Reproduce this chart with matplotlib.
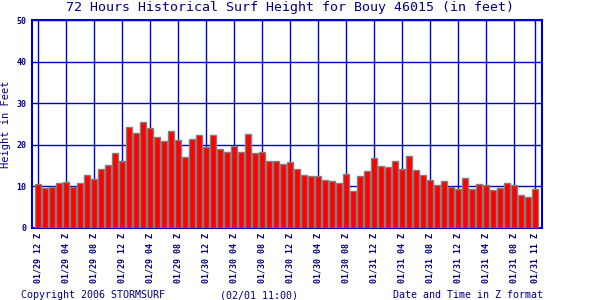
import matplotlib
matplotlib.use("Agg")
import matplotlib.pyplot as plt
import numpy as np

heights = [10.5, 9.6, 9.8, 10.8, 11.0, 9.8, 10.8, 12.6, 11.7, 14.1, 15.1, 18.0,
           16.1, 24.3, 22.8, 25.4, 24.0, 21.9, 20.8, 23.3, 21.1, 17.0, 21.5, 22.3,
           19.4, 22.3, 18.9, 18.2, 19.7, 18.2, 22.5, 17.9, 18.2, 16.0, 16.0, 15.3,
           15.8, 14.1, 12.6, 12.4, 12.4, 11.4, 11.2, 10.7, 12.9, 8.8, 12.4, 13.6,
           16.7, 14.8, 14.6, 16.0, 14.1, 17.2, 13.8, 12.6, 11.4, 10.2, 11.2, 9.7,
           9.3, 12.1, 9.3, 10.5, 10.2, 9.0, 9.5, 10.7, 10.2, 8.0, 7.3, 9.3]
tick_idx = [0, 4, 8, 12, 16, 20, 24, 28, 32, 36, 40, 44, 48, 52, 56, 60, 64, 68, 71]
tick_labels = ["01/29 12 Z", "01/29 04 Z", "01/29 08 Z", "01/29 12 Z", "01/29 04 Z",
               "01/29 08 Z", "01/30 12 Z", "01/30 04 Z", "01/30 08 Z", "01/30 12 Z",
               "01/30 04 Z", "01/30 08 Z", "01/31 12 Z", "01/31 04 Z", "01/31 08 Z",
               "01/31 12 Z", "01/31 04 Z", "01/31 08 Z", "01/31 11 Z"]
yticks = [0, 10, 20, 30, 40, 50]

blue = "#0000C8"
navy = "#000080"
mono = "DejaVu Sans Mono"

fig = plt.figure(figsize=(6, 3), dpi=100)
ax = fig.add_axes([31.7/600, 1-227.7/300, (542.3-31.7)/600, (227.7-20.3)/300])
x = np.arange(len(heights))
ax.bar(x, heights, width=0.9, color="#FF0000", edgecolor="#808080", linewidth=1.0, zorder=3)
ax.set_xlim(-0.94, 72)
ax.set_ylim(0, 50)
ax.set_yticks(yticks)
ax.set_yticklabels([str(v) for v in yticks], fontsize=6, family=mono, fontweight="bold", color=navy)
ax.set_xticks(tick_idx)
ax.set_xticklabels(tick_labels, rotation=90, fontsize=6, family=mono, fontweight="bold", color=navy)
ax.tick_params(length=0, pad=4)
ax.grid(True, color=blue, linewidth=1.0, zorder=0)
ax.set_axisbelow(True)
for s in ax.spines.values():
    s.set_color(blue)
    s.set_linewidth(1.5)
ax.set_ylabel("Height in Feet", family=mono, fontsize=7.5, color=navy, labelpad=4)
fig.text(290/600, 1-8/300, "72 Hours Historical Surf Height for Bouy 46015 (in feet)",
         ha="center", va="center", family=mono, fontsize=9.5, color=navy)
fig.text(21/600, 1-295/300, "Copyright 2006 STORMSURF", ha="left", va="center",
         family=mono, fontsize=7.2, color=navy)
fig.text(220/600, 1-295/300, "(02/01 11:00)", ha="left", va="center",
         family=mono, fontsize=7.2, color=navy)
fig.text(543/600, 1-295/300, "Date and Time in Z format", ha="right", va="center",
         family=mono, fontsize=7.2, color=navy)
fig.savefig("out.png", dpi=100)
